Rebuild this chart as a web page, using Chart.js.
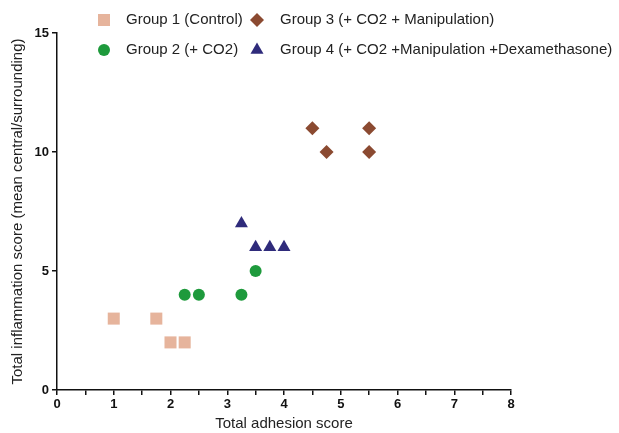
<!DOCTYPE html>
<html>
<head>
<meta charset="utf-8">
<script src="https://cdn.jsdelivr.net/npm/chart.js@4"></script>
<style>
    html, body { margin: 0; padding: 0; background: #fff; }
    #wrap { width: 619px; height: 433px; }
</style>
</head>
<body>
<div id="wrap"><canvas id="scatter-chart"></canvas></div>
<script>
// Group labels, in legend order (row by row)
const groupNames = [
    'Group 1 (Control)',
    'Group 2 (+ CO2)',
    'Group 3 (+ CO2 + Manipulation)',
    'Group 4 (+ CO2 +Manipulation +Dexamethasone)'
];

// adhesion score (x) / inflammation score (y) per group
const group1X = [1, 1.75, 2, 2.25];
const group1Y = [3, 3, 2, 2];
const group2X = [2.25, 2.5, 3.25, 3.5];
const group2Y = [4, 4, 4, 5];
const group3X = [4.5, 4.75, 5.5, 5.5];
const group3Y = [11, 10, 11, 10];
const group4X = [3.25, 3.5, 3.75, 4];
const group4Y = [7, 6, 6, 6];

const xTicks = [0, 1, 2, 3, 4, 5, 6, 7, 8];
const yTicks = [0, 5, 10, 15];

var styles = [
    { color: '#E6B49C', pointStyle: 'rect', radius: 8.5 },
    { color: '#1E9A3C', pointStyle: 'circle', radius: 6 },
    { color: '#8B4A31', pointStyle: 'rectRot', radius: 7 },
    { color: '#2F2B7B', pointStyle: 'triangle', radius: 7.5 }
];

const toPoints = (xs, ys) => xs.map((x, i) => ({ x: x, y: ys[i] }));
const series = [
    toPoints(group1X, group1Y),
    toPoints(group2X, group2Y),
    toPoints(group3X, group3Y),
    toPoints(group4X, group4Y)
];

// legend drawn by hand so the two columns line up like the original
var legendPos = [
    { mx: 104, tx: 126, y: 20 },
    { mx: 104, tx: 126, y: 50 },
    { mx: 257, tx: 280, y: 20 },
    { mx: 257, tx: 280, y: 50 }
];

const gridLegend = {
    id: 'gridLegend',
    afterDraw(chart) {
        const ctx = chart.ctx;
        ctx.save();
        ctx.font = '15px "Liberation Sans", Arial, sans-serif';
        ctx.textBaseline = 'middle';
        groupNames.forEach((name, i) => {
            const s = styles[i];
            const p = legendPos[i];
            ctx.fillStyle = s.color;
            ctx.strokeStyle = s.color;
            Chart.helpers.drawPoint(ctx, { pointStyle: s.pointStyle, radius: s.radius, borderWidth: 0 }, p.mx, p.y);
            ctx.fillStyle = '#222';
            ctx.fillText(name, p.tx, p.y);
        });
        ctx.restore();
    }
};

const axisFont = { family: '"Liberation Sans", Arial, sans-serif', size: 13, weight: 'bold' };
const titleFont = { family: '"Liberation Sans", Arial, sans-serif', size: 15 };

new Chart(document.getElementById('scatter-chart'), {
    type: 'scatter',
    data: {
        datasets: series.map((pts, i) => ({
            label: groupNames[i],
            data: pts,
            pointStyle: styles[i].pointStyle,
            pointRadius: styles[i].radius,
            pointHoverRadius: styles[i].radius,
            backgroundColor: styles[i].color,
            borderColor: styles[i].color,
            borderWidth: 0
        }))
    },
    options: {
        responsive: true,
        maintainAspectRatio: false,
        animation: false,
        layout: { padding: { top: 33, right: 108, left: 0, bottom: 0 } },
        plugins: {
            legend: { display: false },
            tooltip: { enabled: false }
        },
        scales: {
            x: {
                type: 'linear',
                min: xTicks[0],
                max: xTicks[xTicks.length - 1],
                afterFit: (scale) => { scale.height = 43; },
                afterBuildTicks: (scale) => {
                    const t = [];
                    for (let v = xTicks[0]; v <= xTicks[xTicks.length - 1]; v += 0.5) t.push({ value: v });
                    scale.ticks = t;
                },
                ticks: {
                    color: '#111',
                    font: axisFont,
                    padding: 2,
                    autoSkip: false,
                    maxRotation: 0,
                    callback: (v) => xTicks.includes(v) ? v : ''
                },
                grid: { drawOnChartArea: false, drawTicks: true, tickLength: 5, color: '#111', lineWidth: 1.5 },
                border: { color: '#111', width: 1.5 },
                title: { display: true, text: 'Total adhesion score', color: '#222', font: titleFont, padding: { top: 0, bottom: 0 } }
            },
            y: {
                type: 'linear',
                min: yTicks[0],
                max: yTicks[yTicks.length - 1],
                afterFit: (scale) => { scale.width = 57; },
                afterBuildTicks: (scale) => { scale.ticks = yTicks.map(v => ({ value: v })); },
                ticks: { color: '#111', font: axisFont, padding: 3 },
                grid: { drawOnChartArea: false, drawTicks: true, tickLength: 5, color: '#111', lineWidth: 1.5 },
                border: { color: '#111', width: 1.5 },
                title: { display: true, text: 'Total inflammation score (mean central/surrounding)', color: '#222', font: titleFont, padding: { top: 9, bottom: 0 } }
            }
        }
    },
    plugins: [gridLegend]
});
</script>
</body>
</html>
